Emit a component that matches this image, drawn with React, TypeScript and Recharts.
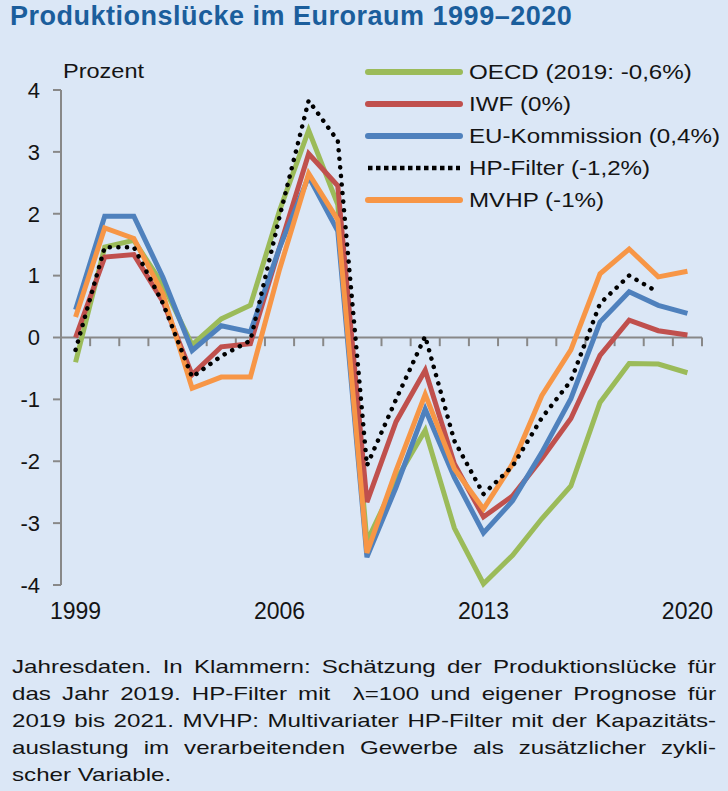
import React from "react";
import { LineChart, Line, XAxis, YAxis, ReferenceLine } from "recharts";

const YEARS = [1999, 2000, 2001, 2002, 2003, 2004, 2005, 2006, 2007, 2008, 2009, 2010, 2011, 2012, 2013, 2014, 2015, 2016, 2017, 2018, 2019, 2020];
const OECD = [-0.4, 1.46, 1.57, 0.85, -0.12, 0.3, 0.52, 2.05, 3.35, 2.15, -3.3, -2.3, -1.5, -3.08, -3.98, -3.52, -2.93, -2.4, -1.05, -0.42, -0.43, -0.57];
const IWF = [0.0, 1.3, 1.34, 0.58, -0.6, -0.15, -0.1, 1.45, 2.97, 2.45, -2.66, -1.36, -0.53, -2.04, -2.9, -2.56, -1.96, -1.31, -0.29, 0.28, 0.11, 0.04];
const EU = [0.45, 1.96, 1.96, 0.97, -0.21, 0.19, 0.09, 1.45, 2.6, 1.72, -3.55, -2.42, -1.16, -2.26, -3.16, -2.64, -1.86, -0.99, 0.25, 0.74, 0.52, 0.39];
const MVHP = [0.33, 1.77, 1.6, 0.7, -0.82, -0.64, -0.64, 1.1, 2.65, 1.9, -3.48, -2.15, -0.92, -2.12, -2.77, -2.04, -0.94, -0.2, 1.03, 1.43, 0.98, 1.07];
const HP = [-0.2, 1.46, 1.46, 0.55, -0.64, -0.3, -0.05, 1.95, 3.83, 3.18, -2.07, -1.0, 0.02, -1.67, -2.53, -2.08, -1.3, -0.7, 0.55, 1.0, 0.73, null];

const X_LABEL_TICKS = [1999, 2006, 2013, 2020];
const X_BOUNDARIES = [1999.5, 2000.5, 2001.5, 2002.5, 2003.5, 2004.5, 2005.5, 2006.5, 2007.5, 2008.5, 2009.5, 2010.5, 2011.5, 2012.5, 2013.5, 2014.5, 2015.5, 2016.5, 2017.5, 2018.5, 2019.5, 2020.5];
const Y_TICKS = [-4, -3, -2, -1, 0, 1, 2, 3, 4];

const TITLE = "Produktionslücke im Euroraum 1999–2020";
const UNIT = "Prozent";
const FOOTNOTE = [
  "Jahresdaten. In Klammern: Schätzung der Produktionslücke für",
  "das Jahr 2019. HP-Filter mit  λ=100 und eigener Prognose für",
  "2019 bis 2021. MVHP: Multivariater HP-Filter mit der Kapazitäts-",
  "auslastung im verarbeitenden Gewerbe als zusätzlicher zykli-",
  "scher Variable.",
];

const SERIES = [
  { key: "oecd", label: "OECD (2019: -0,6%)", color: "#9BBB59", dotted: false },
  { key: "iwf", label: "IWF (0%)", color: "#C0504D", dotted: false },
  { key: "eu", label: "EU-Kommission (0,4%)", color: "#4F81BD", dotted: false },
  { key: "hp", label: "HP-Filter (-1,2%)", color: "#000000", dotted: true },
  { key: "mvhp", label: "MVHP (-1%)", color: "#F79646", dotted: false },
];
const DRAW_ORDER = ["oecd", "iwf", "eu", "mvhp", "hp"];

const data = YEARS.map((year, i) => ({
  year,
  oecd: OECD[i],
  iwf: IWF[i],
  eu: EU[i],
  mvhp: MVHP[i],
  hp: HP[i],
}));

const BG = "#DBE7F6";
const AXIS = "#888888";
const TEXT = "#141414";
const FONT = "'Liberation Sans', Arial, sans-serif";
const FOOT_SCALE = 1.27;

function Stretch({ scale, children, style }: { scale: number; children: React.ReactNode; style?: React.CSSProperties }) {
  return (
    <span
      style={{
        display: "inline-block",
        transform: `scaleX(${scale})`,
        transformOrigin: "left center",
        whiteSpace: "nowrap",
        ...style,
      }}
    >
      {children}
    </span>
  );
}

export default function App() {
  return (
    <div
      style={{
        position: "absolute",
        left: 0,
        top: 0,
        width: 728,
        height: 791,
        background: BG,
        overflow: "hidden",
        fontFamily: FONT,
      }}
    >
      <div
        style={{
          position: "absolute",
          left: 10,
          top: 1,
          fontSize: 27,
          lineHeight: "30px",
          fontWeight: "bold",
          color: "#1B5E9C",
          letterSpacing: 0.5,
          whiteSpace: "nowrap",
        }}
      >
        {TITLE}
      </div>
      <div style={{ position: "absolute", left: 0, top: 0 }}>
        <LineChart width={728} height={640} data={data} margin={{ top: 90, right: 26, bottom: 25, left: 0 }}>
          <XAxis
            dataKey="year"
            type="number"
            domain={[1998.5, 2020.5]}
            ticks={X_LABEL_TICKS}
            axisLine={false}
            tickLine={false}
            tickMargin={12}
            height={30}
            tick={{ fontSize: 23, fill: TEXT, fontFamily: FONT }}
            allowDataOverflow
          />
          <YAxis
            domain={[-4, 4]}
            ticks={Y_TICKS}
            width={61}
            axisLine={{ stroke: AXIS, strokeWidth: 2 }}
            tickLine={{ stroke: AXIS, strokeWidth: 2 }}
            tickSize={8}
            tickMargin={13}
            tick={{ fontSize: 22, fill: TEXT, fontFamily: FONT }}
            interval={0}
          />
          <ReferenceLine y={0} stroke={AXIS} strokeWidth={2} />
          {X_BOUNDARIES.map((b) => (
            <ReferenceLine
              key={b}
              segment={[
                { x: b, y: 0 },
                { x: b, y: -0.14 },
              ]}
              stroke={AXIS}
              strokeWidth={2}
            />
          ))}
          {DRAW_ORDER.map((k) => {
            const s = SERIES.find((x) => x.key === k)!;
            return (
              <Line
                key={k}
                dataKey={k}
                type="linear"
                stroke={s.color}
                strokeWidth={s.dotted ? 4.5 : 5}
                strokeDasharray={s.dotted ? "0.1 8.5" : undefined}
                strokeLinecap={s.dotted ? "round" : "butt"}
                strokeLinejoin="miter"
                dot={false}
                activeDot={false}
                isAnimationActive={false}
                connectNulls={false}
              />
            );
          })}
        </LineChart>
      </div>
      <div style={{ position: "absolute", left: 365, top: 56, width: 360 }}>
        {SERIES.map((s) => (
          <div key={s.key} style={{ height: 32, display: "flex", alignItems: "center" }}>
            <svg width={104} height={12} style={{ display: "block", flex: "none" }}>
              <line
                x1={3}
                y1={6}
                x2={95}
                y2={6}
                stroke={s.color}
                strokeWidth={s.dotted ? 4.5 : 6}
                strokeLinecap={s.dotted ? "butt" : "round"}
                strokeDasharray={s.dotted ? "4.5 3.5" : undefined}
              />
            </svg>
            <Stretch scale={1.15} style={{ fontSize: 21, color: TEXT }}>
              {s.label}
            </Stretch>
          </div>
        ))}
      </div>
      <div style={{ position: "absolute", left: 63, top: 59, fontSize: 21, color: TEXT }}>
        <Stretch scale={1.12}>{UNIT}</Stretch>
      </div>
      <div style={{ position: "absolute", left: 12, top: 653, width: 704 }}>
        {FOOTNOTE.map((line, i) => (
          <div
            key={i}
            style={{
              width: 704 / FOOT_SCALE,
              transform: `scaleX(${FOOT_SCALE})`,
              transformOrigin: "left top",
              fontSize: 19,
              lineHeight: "27px",
              height: 27,
              color: TEXT,
              whiteSpace: "pre",
              textAlign: "justify",
              textAlignLast: i === FOOTNOTE.length - 1 ? "left" : "justify",
            }}
          >
            {line}
          </div>
        ))}
      </div>
    </div>
  );
}
